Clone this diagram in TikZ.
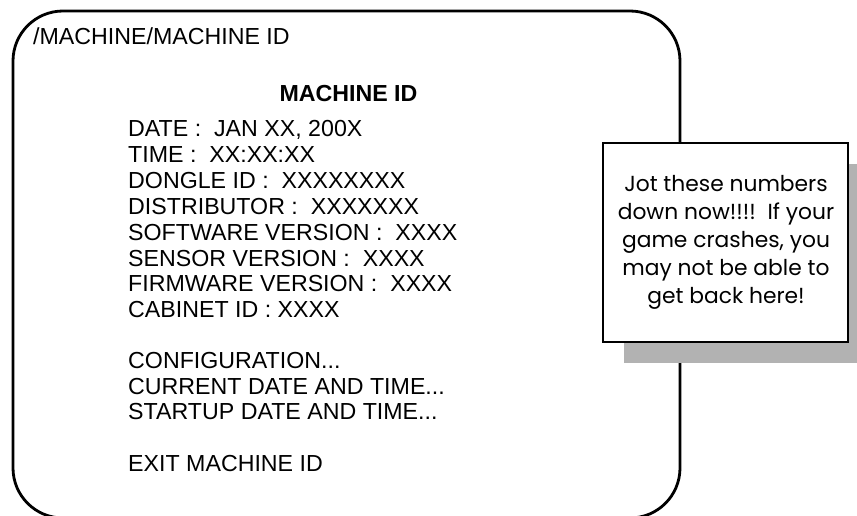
\documentclass[tikz,border=0pt]{standalone}
\usepackage{fontspec}
\setmainfont{Liberation Sans}
\newfontfamily\notefont{Poppins}
\begin{document}
\begin{tikzpicture}[x=1pt,y=-1pt,
  screen/.style={draw=black,line width=2.8pt,rounded corners=50pt},
  bodytext/.style={anchor=base west,inner sep=0pt,font=\fontsize{23.2}{26}\selectfont},
  notebox/.style={draw=black,line width=1.5pt,fill=white},
  shadowbox/.style={fill=black!30,draw=none},
  notetext/.style={align=center,inner sep=0pt,font=\notefont\fontsize{21.8}{28}\selectfont}]
\useasboundingbox (0,0) rectangle (857,516);
\draw[screen] (13,11) rectangle (680,518);
\node[bodytext] (path) at (33,45) {/MACHINE/MACHINE ID};
\node[anchor=base,inner sep=0pt,font=\fontsize{23.2}{26}\selectfont\bfseries] (title) at (348.5,102) {MACHINE ID};
\node[bodytext] (l1) at (128,137) {DATE :\ \ JAN XX, 200X};
\node[bodytext] (l2) at (128,162.8) {TIME :\ \ XX:XX:XX};
\node[bodytext] (l3) at (128,188.6) {DONGLE ID :\ \ XXXXXXXX};
\node[bodytext] (l4) at (128,214.4) {DISTRIBUTOR :\ \ XXXXXXX};
\node[bodytext] (l5) at (128,240.2) {SOFTWARE VERSION :\ \ XXXX};
\node[bodytext] (l6) at (128,266) {SENSOR VERSION :\ \ XXXX};
\node[bodytext] (l7) at (128,291.8) {FIRMWARE VERSION :\ \ XXXX};
\node[bodytext] (l8) at (128,317.6) {CABINET ID : XXXX};
\node[bodytext] (l9) at (128,368.2) {CONFIGURATION...};
\node[bodytext] (l10) at (128,394) {CURRENT DATE AND TIME...};
\node[bodytext] (l11) at (128,419.8) {STARTUP DATE AND TIME...};
\node[bodytext] (l12) at (128,471) {EXIT MACHINE ID};
\fill[shadowbox] (624,164) rectangle (869,363);
\draw[notebox] (603,143) rectangle (848,342);
\node[notetext] (note) at (726,242) {Jot these numbers\\down now!!!!\ \ If your\\game crashes, you\\may not be able to\\get back here!};
\end{tikzpicture}
\end{document}
